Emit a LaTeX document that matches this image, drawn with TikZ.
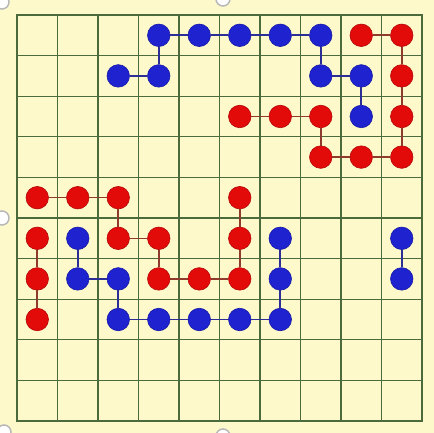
\documentclass[tikz,border=0pt]{standalone}
\usetikzlibrary{backgrounds}
\definecolor{paper}{HTML}{FDF9CB}
\definecolor{gridc}{HTML}{4C6B3C}
\definecolor{rdotc}{HTML}{E30A0A}
\definecolor{rlinec}{HTML}{8E3A2C}
\definecolor{bdotc}{HTML}{1E22CF}
\definecolor{blinec}{HTML}{2B2E95}
\definecolor{handlec}{HTML}{B8B8B8}
\tikzset{
  rdot/.style={circle,fill=rdotc,draw=rdotc!80!black,line width=0.6pt,minimum size=22.5pt,inner sep=0pt},
  bdot/.style={circle,fill=bdotc,draw=bdotc!80!black,line width=0.6pt,minimum size=22.5pt,inner sep=0pt},
  rline/.style={draw=rlinec,line width=1.6pt},
  bline/.style={draw=blinec,line width=1.6pt},
  gridline/.style={draw=gridc,line width=1.3pt},
  border/.style={draw=gridc,line width=2.2pt},
  handle/.style={draw=handlec,fill=white,line width=1.5pt}
}
\begin{document}
\begin{tikzpicture}[x=1pt,y=-1pt]
\useasboundingbox (0,0) rectangle (434,433);
\clip (0,0) rectangle (434,433);
\fill[paper] (0,0) rectangle (434,433);
% handles
\draw[handle] (223,-1) circle (7);
\draw[handle] (223,436) circle (7);
\draw[handle] (2,218) circle (7);
\draw[handle] (2,2) circle (7);
\draw[handle] (4,432) circle (7);
% grid
\foreach \i in {1,...,9} {
  \draw[gridline] ({17+40.5*\i},15) -- ({17+40.5*\i},421);
  \draw[gridline] (17,{15+40.6*\i}) -- (422,{15+40.6*\i});
}
\draw[border] (17,15) rectangle (422,421);
% blue dots
\foreach \r/\c in {0/3,0/4,0/5,0/6,0/7,1/2,1/3,1/7,1/8,2/8,5/1,6/1,6/2,7/2,7/3,7/4,7/5,7/6,6/6,5/6,5/9,6/9}
  \node[bdot] (b\r\c) at ({37.25+40.5*\c},{35.3+40.6*\r}) {};
% red dots
\foreach \r/\c in {0/8,0/9,1/9,2/9,3/9,3/8,3/7,2/7,2/6,2/5,4/0,4/1,4/2,5/2,5/3,6/3,6/4,6/5,5/5,4/5,5/0,6/0,7/0}
  \node[rdot] (r\r\c) at ({37.25+40.5*\c},{35.3+40.6*\r}) {};
% blue connectors
\foreach \a/\b in {03/04,04/05,05/06,06/07,12/13,13/03,07/17,17/18,18/28,51/61,61/62,62/72,72/73,73/74,74/75,75/76,76/66,66/56,59/69}
  \draw[bline] (b\a) -- (b\b);
% red connectors
\foreach \a/\b in {08/09,09/19,19/29,29/39,39/38,38/37,37/27,27/26,26/25,40/41,41/42,42/52,52/53,53/63,63/64,64/65,65/55,55/45,50/60,60/70}
  \draw[rline] (r\a) -- (r\b);
\end{tikzpicture}
\end{document}
